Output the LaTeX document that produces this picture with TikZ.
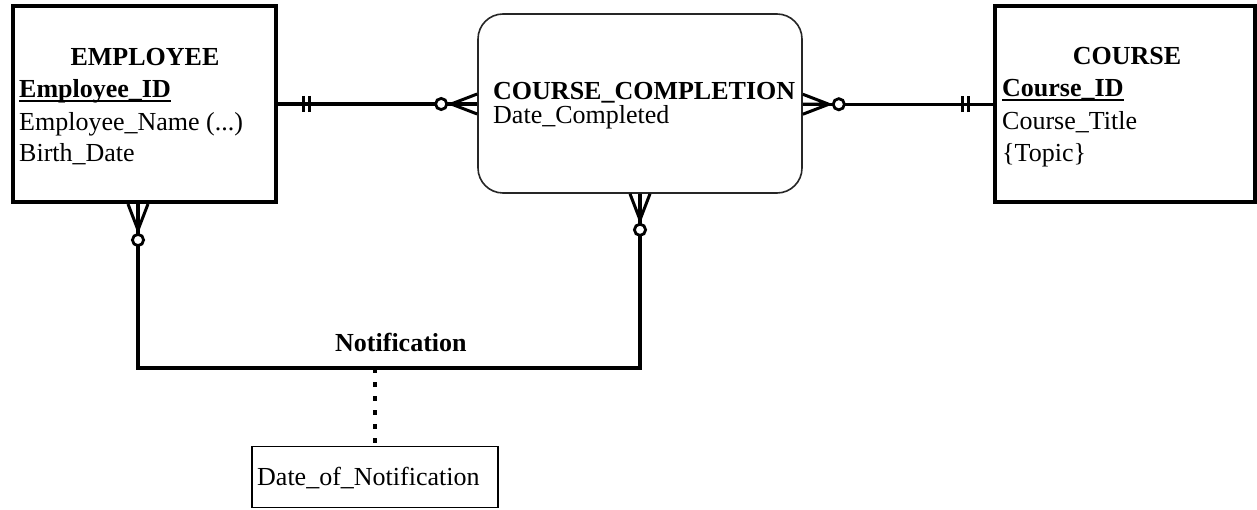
\documentclass[tikz,border=0pt]{standalone}
\usepackage{fontspec}
\setmainfont{Liberation Serif}
\newcommand\keyid[1]{\setbox0\hbox{#1}\rlap{\rule[-4pt]{\wd0}{2pt}}\box0}
\begin{document}
\begin{tikzpicture}[x=1pt,y=-1pt,
  entbox/.style={draw=black, line width=4pt, inner sep=0pt},
  assocbox/.style={draw=black!85, line width=1.6pt, rounded corners=25pt, inner sep=0pt},
  attrbox/.style={draw=black, line width=1.5pt, inner sep=0pt},
  txt/.style={inner sep=0pt, font=\fontsize{26}{30}\selectfont},
  txtb/.style={inner sep=0pt, font=\fontsize{26}{30}\selectfont\bfseries},
  rel/.style={line width=3.4pt},
  dotline/.style={line width=3.4pt, dash pattern=on 5pt off 9pt},
  manyopt/.pic={
    \draw[line width=3pt] (0,-10) -- (26,0) (0,0) -- (26,0) (0,10) -- (26,0);
    \draw[line width=2.8pt, fill=white] (36,0) circle[radius=5.6pt];
  },
  onemand/.pic={
    \draw[line width=3pt] (25,-8) -- (25,8) (31,-8) -- (31,8);
  }
]
\useasboundingbox[fill=white] (0,0) rectangle (1257,510);

% entity boxes
\node[entbox, minimum width=263pt, minimum height=196pt] (emp) at (144.5,104) {};
\node[assocbox, minimum width=324pt, minimum height=179pt] (cc) at (640,103.5) {};
\node[entbox, minimum width=260pt, minimum height=196pt] (crs) at (1125,104.25) {};
\node[attrbox, minimum width=246pt, minimum height=61pt] (dn) at (375,477) {};

% texts
\node[txtb, anchor=base] (empt) at (145,66) {EMPLOYEE};
\node[txtb, anchor=base west] (empid) at (19,98) {\keyid{Employee\_ID}};
\node[txt, anchor=base west] (empn) at (19,131) {Employee\_Name (...)};
\node[txt, anchor=base west] (empb) at (19,162) {Birth\_Date};

\node[txtb, anchor=base west] (cct) at (493,100) {COURSE\_COMPLETION};
\node[txt, anchor=base west] (ccd) at (493,124) {Date\_Completed};

\node[txtb, anchor=base] (crt) at (1127,65) {COURSE};
\node[txtb, anchor=base west] (crid) at (1002,97) {\keyid{Course\_ID}};
\node[txt, anchor=base west] (crtt) at (1002,130) {Course\_Title};
\node[txt, anchor=base west] (crtp) at (1002,162) {\{Topic\}};

\node[txtb, anchor=base west] (notif) at (335,351) {Notification};
\node[txt, anchor=base west] (dnt) at (257,485) {Date\_of\_Notification};

% connectors
\coordinate (empbot) at ([xshift=-6.5pt]emp.south);
\coordinate (nl) at (138,368);
\coordinate (nr) at (640,368);
\coordinate (nm) at (375,368);

\draw[rel] (emp.east) -- (emp.east -| cc.west);
\draw[rel] (crs.west -| cc.east) -- (crs.west);
\draw[rel] (empbot) -- (nl) -- (nr) -- (cc.south);
\draw[dotline] (nm) -- (dn.north);

% cardinality symbols
\pic at (emp.east) {onemand};
\pic[rotate=180] at (crs.west) {onemand};
\pic[rotate=180] at (emp.east -| cc.west) {manyopt};
\pic at (crs.west -| cc.east) {manyopt};
\pic[rotate=-90] at (empbot) {manyopt};
\pic[rotate=-90] at (cc.south) {manyopt};
\end{tikzpicture}
\end{document}
